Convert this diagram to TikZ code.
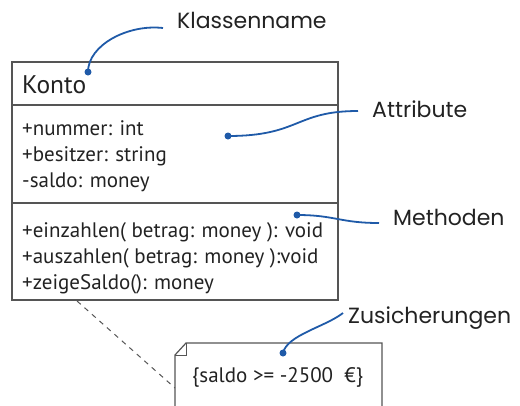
\documentclass[tikz,border=0pt]{standalone}
\usepackage{fontspec}
\setmainfont{PT Sans}
\newfontfamily\handfont{Poppins}
\definecolor{umlline}{HTML}{555555}
\definecolor{pointer}{HTML}{1F5AA8}
\definecolor{ink}{HTML}{222222}
\begin{document}
\begin{tikzpicture}[x=1pt,y=-1pt,
  boxline/.style={draw=umlline,line width=1.3pt},
  member/.style={anchor=base west,inner sep=0pt,text=ink,font=\fontsize{21}{24}\selectfont},
  title/.style={member,font=\fontsize{25.5}{28}\selectfont},
  remark/.style={anchor=base west,inner sep=0pt,text=ink,font=\handfont\fontsize{22}{25}\selectfont},
  pin/.style={circle,fill=pointer,inner sep=0pt,minimum size=7pt},
  pointerline/.style={draw=pointer,line width=1.8pt},
  anchorline/.style={draw=umlline,line width=1pt,dash pattern=on 5pt off 5pt}]
\useasboundingbox (0,0) rectangle (520,405);

% class box Konto with its three compartments
\draw[boxline] (12,62) rectangle (338,300);
\draw[boxline] (12,105) -- (338,105);
\draw[boxline] (12,203) -- (338,203);
\coordinate (boxcorner) at (77,301);

\node[title] (name) at (22,93) {Konto};
\node[member] (attr1) at (22,135) {+nummer: int};
\node[member] (attr2) at (22,161) {+besitzer: string};
\node[member] (attr3) at (22,187) {-saldo: money};
\node[member] (meth1) at (22,237) {+einzahlen( betrag: money ): void};
\node[member] (meth2) at (22,263) {+auszahlen( betrag: money ):void};
\node[member] (meth3) at (22,289) {+zeigeSaldo(): money};

% constraint note with folded corner
\draw[boxline,line width=1.2pt] (175,406) -- (175,355) -- (186,343) -- (382,343) -- (382,406);
\draw[boxline,line width=1pt] (175,355) -- (186,355) -- (186,343);
\coordinate (notecorner) at (175,388);
\node[member] (constraint) at (192,382) {\{saldo >= -2500 \ €\}};

\draw[anchorline] (boxcorner) -- (notecorner);

% explanatory labels
\node[remark] (lblclass) at (177,28) {Klassenname};
\node[remark] (lblattr) at (372,117) {Attribute};
\node[remark] (lblmeth) at (393,225) {Methoden};
\node[remark] (lblcons) at (348,323) {Zusicherungen};

\coordinate (endclass) at (163,28);
\coordinate (endattr) at (358,111);
\coordinate (endmeth) at (379,223);
\coordinate (endcons) at (343,313);

% pins and pointer curves
\node[pin] (pinclass) at (88,72) {};
\node[pin] (pinattr) at (228,136) {};
\node[pin] (pinmeth) at (297,215) {};
\node[pin] (pincons) at (283,353) {};

\draw[pointerline] (pinclass.center) .. controls (88,45) and (128,24) .. (endclass);
\draw[pointerline] (pinattr.center) .. controls (300,136) and (295,111) .. (endattr);
\draw[pointerline] (pinmeth.center) .. controls (335,215) and (340,223) .. (endmeth);
\draw[pointerline] (pincons.center) .. controls (287,335) and (325,327) .. (endcons);
\end{tikzpicture}
\end{document}
